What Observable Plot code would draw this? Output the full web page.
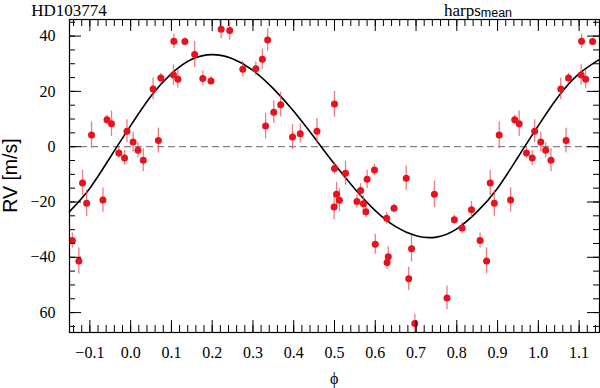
<!DOCTYPE html>
<html><head><meta charset="utf-8">
<script src="https://cdn.jsdelivr.net/npm/d3@7"></script>
<script src="https://cdn.jsdelivr.net/npm/@observablehq/plot@0.6"></script>
<style>body{margin:0;background:#fff}</style>
</head><body><div id="chart"></div>
<script>
// Observations (phase-folded, 0..1)
const phase = [0.006,0.018,0.031,0.055,0.068,0.074,0.105,0.106,0.116,0.133,0.157,0.177,0.197,0.222,0.243,0.275,0.307,0.323,0.331,0.336,0.351,0.368,0.397,0.416,0.457,0.499,0.500,0.500,0.505,0.512,0.527,0.555,0.564,0.571,0.577,0.580,0.598,0.600,0.628,0.629,0.632,0.646,0.676,0.682,0.689,0.697,0.745,0.776,0.794,0.813,0.836,0.857,0.873,0.882,0.892,0.904,0.932,0.942,0.953,0.971,0.985,0.991];
const rv = [1.7,-1.3,-4.9,20.9,2.2,24.8,25.9,38.1,24.4,38.0,33.3,24.7,23.8,42.5,42.0,28.0,28.2,31.6,7.5,38.6,12.5,15.2,3.5,4.7,5.6,-21.8,15.4,-7.9,-17.2,-19.4,-9.6,-19.8,-15.8,-20.6,-23.5,-11.8,-8.4,-35.3,-25.9,-41.9,-39.8,-22.3,-11.4,-47.8,-36.9,-63.9,-17.2,-54.7,-26.4,-29.4,-22.8,-33.9,-41.3,-13.1,-20.5,4.2,-19.3,9.7,8.3,-2.3,-4.1,5.6];
const err = [3.6,2.7,4.2,3.9,4.5,1.7,3.7,2.6,3.3,1.3,4.7,2.7,1.5,3.5,3.5,2.8,2.5,3.6,4.7,4.1,4.0,4.5,4.5,3.4,4.6,4.6,4.7,2.1,4.3,4.1,4.3,2.4,2.4,2.7,2.1,3.3,2.0,3.6,2.1,2.4,3.6,1.5,4.4,4.2,4.8,3.3,4.8,4.3,1.6,2.1,3.0,2.7,4.7,4.6,4.7,4.8,4.4,1.7,4.6,2.0,2.7,4.1];

// Orbit model curve
const modelPhase = [-0.15,-0.10,-0.05,0.00,0.05,0.10,0.15,0.20,0.25,0.30,0.35,0.40,0.45,0.50,0.55,0.60,0.65,0.70,0.75,0.80,0.85,0.90,0.95,1.00,1.05,1.10,1.15];
const modelRV    = [-23.5,-15.0,-3.8,7.6,18.3,26.4,31.6,33.3,31.8,27.6,21.0,12.8,3.4,-6.3,-15.3,-23.1,-28.9,-32.2,-32.7,-29.7,-23.5,-15.0,-3.8,7.6,18.3,26.4,31.6];

// Axis ticks
const xMajor = [-0.1,0.0,0.1,0.2,0.3,0.4,0.5,0.6,0.7,0.8,0.9,1.0,1.1];
const yMajor = [-60,-40,-20,0,20,40];
const yLabels = ["60","−40","−20","0","20","40"];
const xMinor = d3.range(-14, 115, 2).map(d => d / 100);
const yMinor = d3.range(-65, 46, 5);

const X0 = -0.15, X1 = 1.15;
const obs = [];
for (const shift of [-1, 0, 1]) {
  phase.forEach((p, i) => {
    const q = p + shift;
    if (q >= X0 && q <= X1) obs.push({phase: q, rv: rv[i], err: err[i]});
  });
}
const model = modelPhase.map((p, i) => ({phase: p, rv: modelRV[i]}));

const W = 600, H = 388, mL = 69, mR = 1, mT = 19, mB = 56;
const PW = W - mL - mR, PH = H - mT - mB;
const serif = "'Liberation Serif', 'Times New Roman', serif";

const chart = Plot.plot({
  width: W, height: H,
  marginLeft: mL, marginRight: mR, marginTop: mT, marginBottom: mB,
  style: {fontFamily: serif, fontSize: "16px", background: "white", color: "black", overflow: "visible"},
  x: {domain: [X0, X1], axis: null},
  y: {domain: [-67.2, 46], axis: null},
  marks: [
    Plot.ruleY([0], {stroke: "#666", strokeDasharray: "7,4", strokeWidth: 1}),
    Plot.line(model, {x: "phase", y: "rv", curve: "natural", stroke: "black", strokeWidth: 1.6}),
    Plot.ruleX(obs, {x: "phase", y1: d => d.rv - d.err, y2: d => d.rv + d.err, stroke: "#e8505a", strokeOpacity: 0.75, strokeWidth: 1.3}),
    Plot.dot(obs, {x: "phase", y: "rv", r: 3.5, fill: "#e8121e", stroke: "none"}),
    // ticks: x major / minor (bottom and top, inward)
    Plot.tickX(xMajor, {x: d => d, insetTop: PH - 12, stroke: "black"}),
    Plot.tickX(xMajor, {x: d => d, insetBottom: PH - 12, stroke: "black"}),
    Plot.tickX(xMinor, {x: d => d, insetTop: PH - 7, stroke: "black"}),
    Plot.tickX(xMinor, {x: d => d, insetBottom: PH - 7, stroke: "black"}),
    // y ticks (left and right, inward)
    Plot.tickY(yMajor, {y: d => d, insetRight: PW - 12, stroke: "black"}),
    Plot.tickY(yMajor, {y: d => d, insetLeft: PW - 12, stroke: "black"}),
    Plot.tickY(yMinor, {y: d => d, insetRight: PW - 6, stroke: "black"}),
    Plot.tickY(yMinor, {y: d => d, insetLeft: PW - 6, stroke: "black"}),
    Plot.axisX(xMajor, {anchor: "bottom", tickSize: 0, tickPadding: 14, label: null,
      tickFormat: d => (d < 0 ? "−" + (-d).toFixed(1) : d.toFixed(1))}),
    Plot.axisY(yMajor, {anchor: "left", tickSize: 0, tickPadding: 14, label: null,
      tickFormat: d => yLabels[yMajor.indexOf(d)]}),
    Plot.frame({stroke: "black", strokeWidth: 1.2})
  ]
});

document.getElementById("chart").appendChild(chart);
const svg = d3.select(chart);
svg.append("text").attr("x", 69).attr("y", 15.5)
  .style("font-family", serif).style("font-size", "17px").attr("fill", "black")
  .text("HD103774");
const t = svg.append("text").attr("x", 478).attr("y", 15.5)
  .style("font-family", serif).style("font-size", "17px").attr("fill", "black");
t.append("tspan").text("harps");
t.append("tspan").attr("dy", 1.5).style("font-family", "'Liberation Sans', Arial, sans-serif").style("font-size", "12.5px").text("mean");
svg.append("text").attr("transform", "translate(17,175.5) rotate(-90)")
  .attr("text-anchor", "middle")
  .style("font-family", "'Liberation Sans', Arial, sans-serif").style("font-size", "19.5px").attr("fill", "black")
  .text("RV [m/s]");
svg.append("text").attr("x", 334.3).attr("y", 384).attr("text-anchor", "middle")
  .style("font-family", serif).style("font-size", "16px").attr("fill", "black")
  .text("ϕ");
</script>
</body></html>
